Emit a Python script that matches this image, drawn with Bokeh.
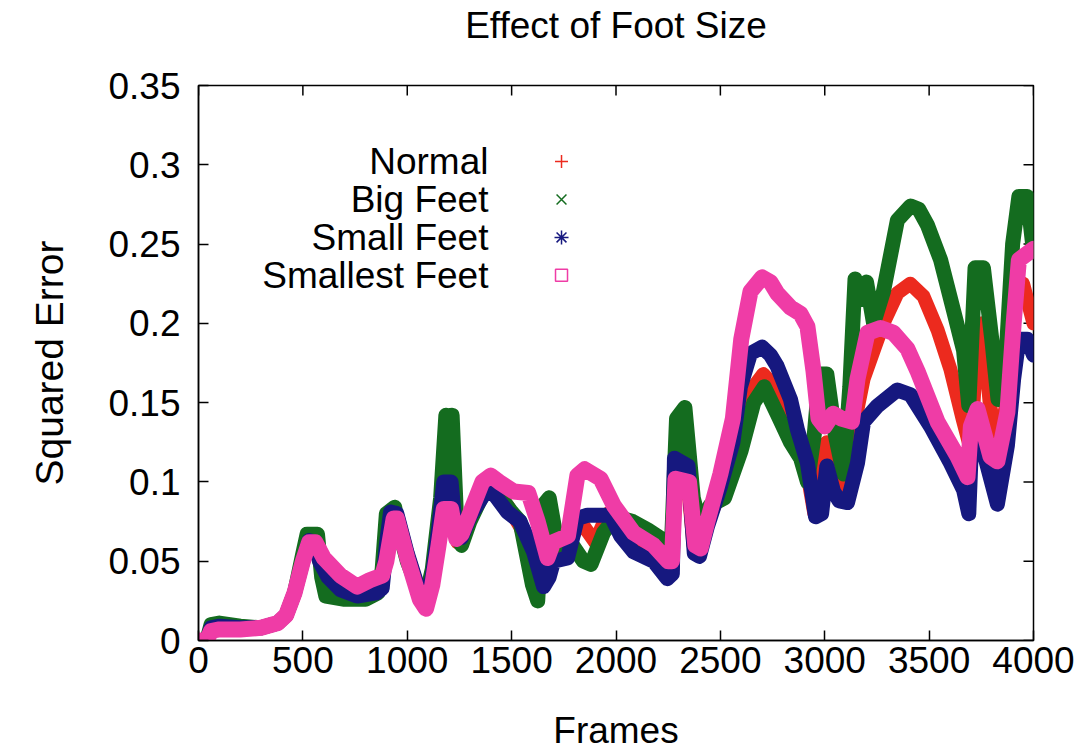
from bokeh.plotting import figure
from bokeh.layouts import column
from bokeh.models import Range1d, FixedTicker, CustomJSTickFormatter
from bokeh.core.properties import value
from bokeh.embed import file_html
from bokeh.resources import INLINE

FONT = "Liberation Sans"

# ---------------- data ----------------
normal_x = [0, 40, 60, 100, 200, 300, 380, 420, 460, 500, 530, 555, 590, 650, 760, 850, 880, 900, 925, 950,
            1000, 1060, 1090, 1120, 1160, 1190, 1210, 1240, 1260, 1300, 1390, 1480, 1540, 1605, 1640, 1680,
            1720, 1770, 1830, 1900, 1960, 2000, 2080, 2180, 2250, 2270, 2290, 2330, 2371, 2405, 2450, 2520,
            2600, 2660, 2705, 2740, 2800, 2870, 2917, 2950, 2975, 3010, 3050, 3100, 3140, 3186, 3240, 3281,
            3348, 3410, 3473, 3540, 3602, 3660, 3700, 3730, 3755, 3790, 3830, 3870, 3910, 3950, 4000]
normal_y = [0, 0, 0.008, 0.009, 0.008, 0.008, 0.011, 0.016, 0.03, 0.05, 0.063, 0.062, 0.045, 0.035, 0.03,
            0.031, 0.035, 0.06, 0.082, 0.08, 0.055, 0.03, 0.025, 0.04, 0.08, 0.115, 0.113, 0.062, 0.063, 0.077,
            0.1, 0.085, 0.072, 0.05, 0.033, 0.06, 0.055, 0.06, 0.075, 0.062, 0.08, 0.078, 0.068, 0.055, 0.045,
            0.045, 0.12, 0.12, 0.06, 0.06, 0.078, 0.1, 0.14, 0.16, 0.168, 0.163, 0.14, 0.122, 0.105, 0.08,
            0.12, 0.125, 0.105, 0.095, 0.135, 0.165, 0.185, 0.2, 0.219, 0.225, 0.217, 0.196, 0.171, 0.14,
            0.12, 0.19, 0.2, 0.15, 0.12, 0.15, 0.21, 0.225, 0.2]

big_x = [0, 40, 60, 100, 200, 300, 380, 420, 460, 500, 520, 570, 590, 610, 700, 800, 860, 880, 900, 940, 960,
         1000, 1060, 1090, 1120, 1160, 1185, 1200, 1215, 1240, 1260, 1300, 1390, 1450, 1500, 1540, 1600, 1625,
         1650, 1680, 1720, 1782, 1844, 1880, 1940, 2000, 2080, 2150, 2230, 2265, 2290, 2330, 2370, 2405, 2450,
         2520, 2600, 2660, 2710, 2772, 2836, 2884, 2917, 2950, 2975, 3010, 3050, 3090, 3120, 3145, 3175, 3200,
         3234, 3281, 3348, 3411, 3450, 3492, 3555, 3617, 3665, 3690, 3720, 3760, 3800, 3830, 3860, 3900, 3930,
         3970, 4000]
big_y = [0, 0, 0.01, 0.011, 0.009, 0.008, 0.011, 0.016, 0.03, 0.055, 0.067, 0.067, 0.04, 0.028, 0.026, 0.026,
         0.03, 0.045, 0.08, 0.084, 0.07, 0.05, 0.03, 0.028, 0.045, 0.09, 0.142, 0.13, 0.142, 0.065, 0.06, 0.075,
         0.1, 0.09, 0.081, 0.075, 0.035, 0.025, 0.085, 0.09, 0.06, 0.062, 0.05, 0.048, 0.068, 0.078, 0.075, 0.07,
         0.063, 0.058, 0.14, 0.147, 0.09, 0.072, 0.085, 0.09, 0.12, 0.15, 0.16, 0.143, 0.125, 0.115, 0.1, 0.13,
         0.168, 0.168, 0.13, 0.105, 0.16, 0.228, 0.215, 0.226, 0.2, 0.22, 0.265, 0.274, 0.272, 0.262, 0.24,
         0.208, 0.183, 0.148, 0.235, 0.235, 0.19, 0.152, 0.16, 0.25, 0.28, 0.28, 0.245]

small_x = [0, 40, 60, 100, 200, 300, 380, 420, 460, 500, 530, 555, 580, 620, 680, 760, 850, 880, 900, 920, 950,
           1000, 1060, 1090, 1120, 1150, 1175, 1210, 1235, 1260, 1300, 1390, 1480, 1540, 1605, 1653, 1680, 1701,
           1768, 1815, 1863, 1974, 2022, 2084, 2180, 2246, 2270, 2280, 2345, 2375, 2400, 2438, 2500, 2560, 2596,
           2644, 2700, 2740, 2772, 2836, 2869, 2917, 2956, 2985, 3010, 3042, 3070, 3109, 3157, 3186, 3253, 3348,
           3411, 3507, 3602, 3665, 3690, 3705, 3730, 3761, 3827, 3875, 3905, 3930, 3970, 4000]
small_y = [0, 0, 0.008, 0.009, 0.008, 0.008, 0.011, 0.016, 0.03, 0.05, 0.063, 0.062, 0.05, 0.04, 0.032, 0.028,
           0.03, 0.033, 0.06, 0.081, 0.08, 0.055, 0.03, 0.025, 0.04, 0.07, 0.1, 0.1, 0.065, 0.065, 0.078, 0.097,
           0.081, 0.075, 0.056, 0.034, 0.04, 0.05, 0.052, 0.077, 0.079, 0.079, 0.066, 0.056, 0.05, 0.039, 0.042,
           0.115, 0.11, 0.055, 0.053, 0.072, 0.097, 0.125, 0.16, 0.181, 0.185, 0.18, 0.173, 0.152, 0.133, 0.112,
           0.078, 0.08, 0.11, 0.094, 0.088, 0.087, 0.112, 0.138, 0.148, 0.158, 0.155, 0.135, 0.112, 0.095, 0.08,
           0.13, 0.135, 0.119, 0.086, 0.123, 0.165, 0.19, 0.19, 0.18]

smallest_x = [0, 40, 60, 100, 200, 300, 380, 420, 460, 500, 530, 560, 600, 680, 760, 820, 880, 900, 935, 950,
              1000, 1060, 1090, 1120, 1150, 1175, 1210, 1235, 1260, 1300, 1360, 1400, 1440, 1510, 1580, 1625,
              1672, 1700, 1770, 1815, 1850, 1926, 1990, 2084, 2180, 2250, 2268, 2285, 2350, 2380, 2405, 2438,
              2500, 2560, 2600, 2644, 2700, 2740, 2772, 2836, 2884, 2917, 2946, 2970, 3000, 3040, 3080, 3130,
              3157, 3205, 3267, 3329, 3396, 3444, 3540, 3636, 3684, 3700, 3732, 3794, 3827, 3875, 3905, 3930, 4000]
smallest_y = [0, 0, 0.006, 0.007, 0.007, 0.008, 0.011, 0.016, 0.03, 0.05, 0.062, 0.062, 0.052, 0.041, 0.034,
              0.038, 0.041, 0.05, 0.077, 0.077, 0.052, 0.026, 0.02, 0.035, 0.06, 0.083, 0.083, 0.064, 0.067, 0.08,
              0.1, 0.104, 0.1, 0.094, 0.093, 0.075, 0.052, 0.062, 0.066, 0.104, 0.108, 0.102, 0.085, 0.068, 0.06,
              0.05, 0.05, 0.102, 0.1, 0.06, 0.058, 0.075, 0.105, 0.14, 0.19, 0.22, 0.229, 0.226, 0.219, 0.21, 0.206,
              0.198, 0.17, 0.14, 0.135, 0.143, 0.14, 0.138, 0.165, 0.194, 0.197, 0.194, 0.184, 0.17, 0.138, 0.116,
              0.103, 0.135, 0.146, 0.116, 0.113, 0.144, 0.2, 0.24, 0.247]

series_names = ["Normal", "Big Feet", "Small Feet", "Smallest Feet"]
series_colors = ["#ec2a1e", "#146c1f", "#16187f", "#ef3ca6"]
series_markers = ["cross", "x", "asterisk", "square"]

x_ticks = [0, 500, 1000, 1500, 2000, 2500, 3000, 3500, 4000]
y_ticks = [0, 0.05, 0.1, 0.15, 0.2, 0.25, 0.3, 0.35]

TITLE = "Effect of Foot Size"
X_MAX = 4000
Y_MAX = 0.35

# legend placement (data units)
legend_text_x = 1389
legend_marker_x = 1739
legend_top_y = 0.302
legend_step = 0.0239

# ---------------- layout sizes ----------------
W, H = 1079, 753
TOP_H = 55                      # strip holding the title
BL, BR, BT, BB = 198, 46, 30, 111
PH = H - TOP_H                  # main plot height
FS = "37px"

frame_w = W - BL - BR
frame_h = PH - BT - BB

# ---------------- title strip (its own svg figure) ----------------
t = figure(width=W, height=TOP_H, output_backend="svg", toolbar_location=None,
           x_range=Range1d(0, X_MAX), y_range=Range1d(0, TOP_H),
           x_axis_location=None, y_axis_location=None, title=None,
           min_border_left=BL, min_border_right=BR, min_border_top=0, min_border_bottom=0)
t.grid.visible = False
t.outline_line_color = None
t.background_fill_color = "white"
t.border_fill_color = "white"
t.text(x=[X_MAX / 2], y=[TOP_H - 25], text=[TITLE], text_align="center", text_baseline="middle",
       text_font=value(FONT), text_font_size=FS, text_color="black")

# ---------------- main figure ----------------
p = figure(width=W, height=PH, output_backend="svg", toolbar_location=None, title=None,
           x_range=Range1d(0, X_MAX), y_range=Range1d(0, Y_MAX),
           min_border_left=BL, min_border_right=BR, min_border_top=BT, min_border_bottom=BB)

p.grid.visible = False
p.outline_line_color = "black"
p.outline_line_width = 1.5
p.background_fill_color = "white"
p.border_fill_color = "white"

fmt = CustomJSTickFormatter(code="return Number(tick.toFixed(2)).toString();")

for ax in [p.xaxis[0], p.yaxis[0]]:
    ax.major_tick_in = 10
    ax.major_tick_out = 0
    ax.minor_tick_line_color = None
    ax.axis_line_width = 1.5
    ax.major_tick_line_width = 1.5
    ax.major_label_text_font = FONT
    ax.major_label_text_font_size = FS
    ax.major_label_text_color = "black"
    ax.axis_label_text_font = FONT
    ax.axis_label_text_font_size = FS
    ax.axis_label_text_font_style = "normal"
    ax.axis_label_text_color = "black"
    ax.formatter = fmt

p.xaxis[0].ticker = FixedTicker(ticks=x_ticks)
p.yaxis[0].ticker = FixedTicker(ticks=y_ticks)
p.xaxis[0].axis_label = "Frames"
p.yaxis[0].axis_label = "Squared Error"
p.yaxis[0].axis_label_text_font_size = "39px"
p.xaxis[0].major_label_standoff = 6
p.xaxis[0].axis_label_standoff = 34
p.yaxis[0].major_label_standoff = 18
p.yaxis[0].axis_label_standoff = 34

# mirror ticks on top and right edges (gnuplot style), 10 px long
tick_len_px = 10
dx = tick_len_px * X_MAX / frame_w
dy = tick_len_px * Y_MAX / frame_h
p.segment(x0=x_ticks, y0=[Y_MAX] * len(x_ticks), x1=x_ticks, y1=[Y_MAX - dy] * len(x_ticks),
          line_color="black", line_width=1.5)
p.segment(x0=[X_MAX] * len(y_ticks), y0=y_ticks, x1=[X_MAX - dx] * len(y_ticks), y1=y_ticks,
          line_color="black", line_width=1.5)

xs = [normal_x, big_x, small_x, smallest_x]
ys = [normal_y, big_y, small_y, smallest_y]
widths = [14, 15, 15, 16]
for x, y, c, w in zip(xs, ys, series_colors, widths):
    p.line(x, y, line_width=w, color=c, line_join="round", line_cap="round")

# legend (gnuplot style: right-aligned text, marker to the right)
legend_y = [legend_top_y - i * legend_step for i in range(len(series_names))]
p.text(x=[legend_text_x] * len(series_names), y=legend_y, text=series_names,
       text_align="right", text_baseline="middle", text_font=value(FONT),
       text_font_size=FS, text_color="black")
marker_sizes = [13, 14, 14, 12]
for i, (c, m) in enumerate(zip(series_colors, series_markers)):
    p.scatter([legend_marker_x], [legend_y[i]], marker=m, size=marker_sizes[i], line_color=c,
              fill_color=None, line_width=1.5)

layout = column(t, p, spacing=0)
open("out.html", "w").write(file_html(layout, INLINE))
